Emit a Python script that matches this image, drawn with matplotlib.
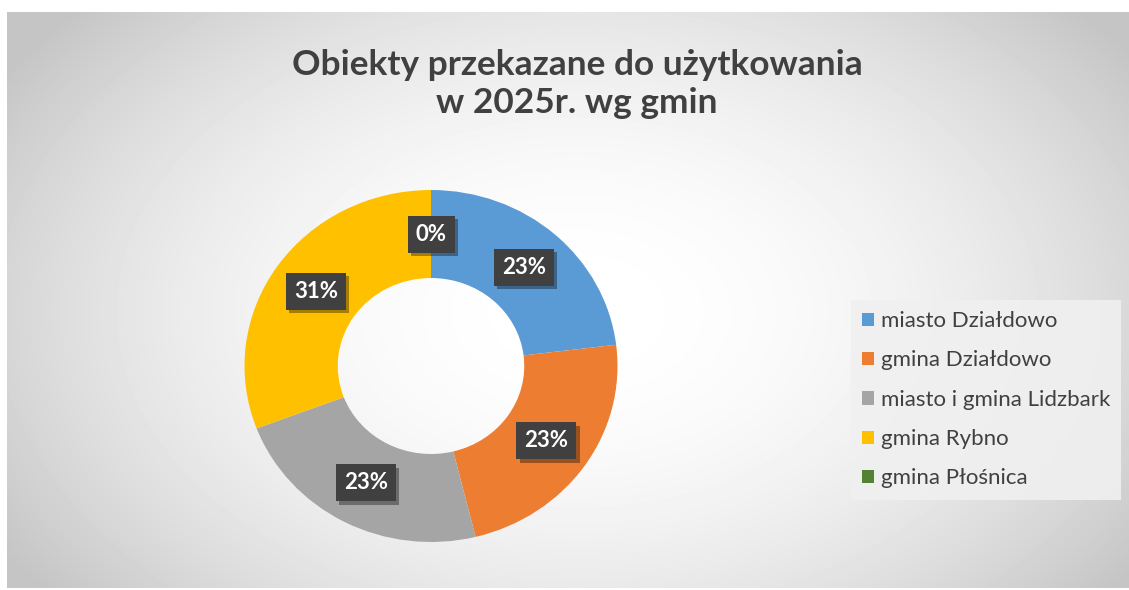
import numpy as np
import matplotlib.pyplot as plt
import matplotlib.patheffects as pe

plt.rcParams['font.family'] = ['Lato', 'DejaVu Sans']

# dane
gminy = ["miasto Działdowo", "gmina Działdowo", "miasto i gmina Lidzbark",
         "gmina Rybno", "gmina Płośnica"]
obiekty = [3, 3, 3, 4, 0]
kolory = ["#5B9BD5", "#ED7D31", "#A5A5A5", "#FFC000", "#548235"]
tytul = "Obiekty przekazane do użytkowania\nw 2025r. wg gmin"

W, H = 1129, 590
fig = plt.figure(figsize=(W / 100, H / 100), dpi=100)
fig.patch.set_facecolor("white")

# tlo - gradient radialny
bg = fig.add_axes([7 / W, 2 / H, 1122 / W, 576 / H])
yy, xx = np.mgrid[0:576, 0:1122]
d = np.sqrt(((xx - 570) / 680.0) ** 2 + ((yy - 300) / 450.0) ** 2)
d = np.clip(d, 0, 1)
szary = 1.0 - 0.23 * d ** 2.0
bg.imshow(szary, cmap="gray", vmin=0, vmax=1, aspect="auto", interpolation="bilinear")
bg.axis("off")

# wykres troche rozciagniety w poziomie (jak w oryginale)
cx, cy = 431, 366
rx, ry = 186.5, 176.0
ax = fig.add_axes([0, 0, 1, 1])

wedges, teksty, procenty = ax.pie(
    obiekty, colors=kolory, startangle=90, counterclock=False,
    radius=1, wedgeprops=dict(width=0.5, edgecolor="none"),
    autopct="%1.0f%%", pctdistance=0.75,
    textprops=dict(color="white", fontsize=16, fontweight="bold"))

ax.set_xlim(-cx / rx, (W - cx) / rx)
ax.set_ylim(-(H - cy) / ry, cy / ry)
ax.set_aspect("auto")
ax.axis("off")

for t in procenty:
    t.set_bbox(dict(boxstyle="square,pad=0.36", facecolor="#404040", edgecolor="none"))
    t.get_bbox_patch().set_path_effects([
        pe.SimplePatchShadow(offset=(2.5, -2.5), shadow_rgbFace="black", alpha=0.35),
        pe.Normal()])

fig.text(577 / W, 1 - 84 / H, tytul, ha="center", va="center", fontsize=25.4,
         fontweight="bold", color="#404040", linespacing=1.25)

leg = ax.legend(wedges, gminy, loc="upper left",
                bbox_to_anchor=(851 / W, 1 - 300 / H), bbox_transform=fig.transFigure,
                frameon=True, fancybox=False, facecolor="#f0f0f0", edgecolor="none",
                framealpha=0.9, fontsize=16, handlelength=0.55, handleheight=0.55,
                handletextpad=0.3, labelspacing=0.87, borderpad=0.5,
                borderaxespad=0)
for t in leg.get_texts():
    t.set_color("#404040")

fig.savefig("out.png", dpi=100)
